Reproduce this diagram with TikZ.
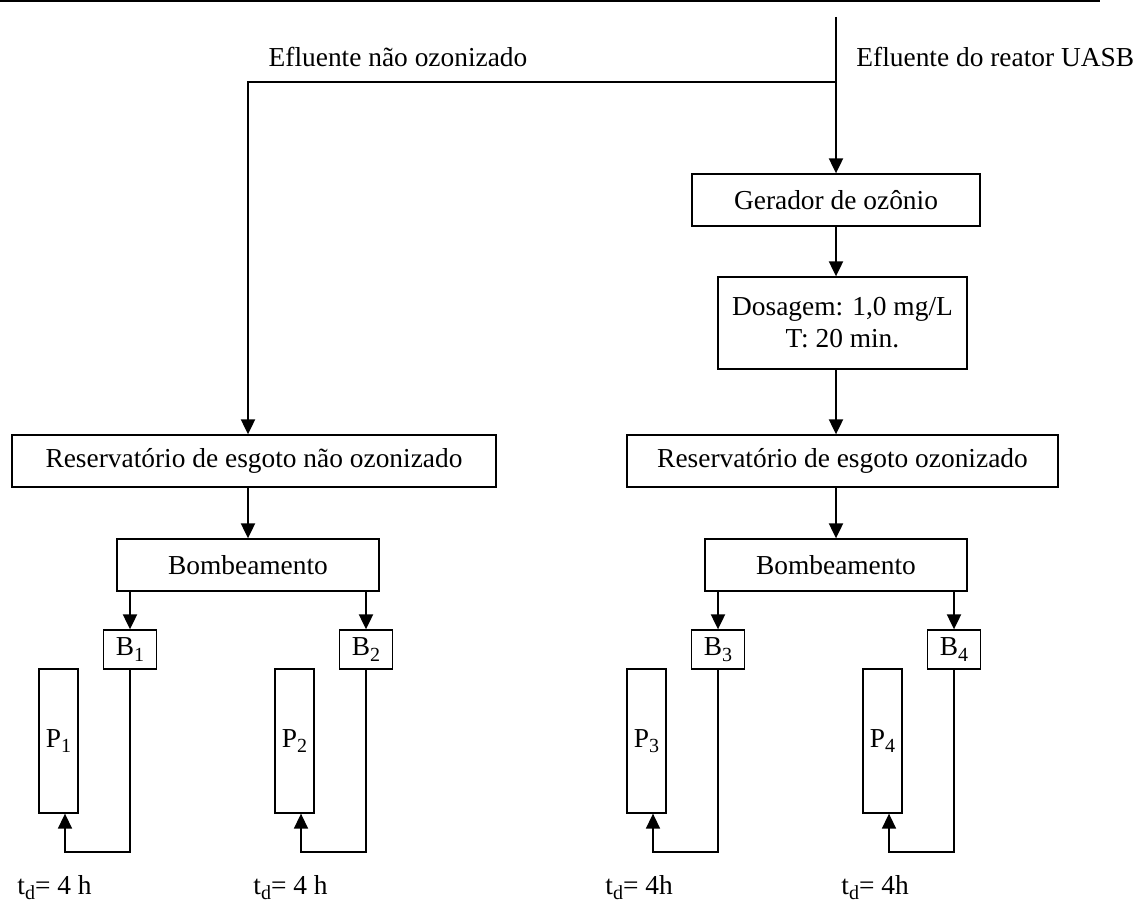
\documentclass[tikz,border=0pt]{standalone}
\usepackage{fontspec}
\setmainfont{Liberation Serif}
\usetikzlibrary{arrows.meta}

\newcommand{\indice}[1]{\raisebox{-0.45ex}{\fontsize{10}{10}\selectfont #1}}

\tikzset{
  caixa/.style={draw, line width=0.65pt, inner sep=0pt, align=center},
  seta/.style={line width=1pt, -{Triangle[length=7.5pt,width=7pt]}},
  volta/.style={line width=0.8pt, -{Triangle[length=7.5pt,width=7pt]}},
}

\begin{document}
\begin{tikzpicture}[x=0.5pt,y=-0.5pt, font=\fontsize{13.7}{16}\selectfont]
  \useasboundingbox (0,0) rectangle (1136,908);

  % linha do topo
  \draw[line width=1pt] (0,1.5) -- (1100,1.5);

  % entrada
  \coordinate (topo) at (836,17);
  \coordinate (ramo) at (836,82);
  \node[anchor=base] (naoOz) at (398,67) {Efluente não ozonizado};
  \node[anchor=base west, inner sep=0pt] (uasb) at (856,67) {Efluente do reator UASB};

  % caixas principais
  \node[caixa, minimum width=144pt, minimum height=26pt] (gerador) at (836,200) {Gerador de ozônio};
  \node[caixa, minimum width=124.5pt, minimum height=46pt] (dosagem) at (842.5,323) {Dosagem: 1,0 mg/L\\T: 20 min.};
  \node[caixa, minimum width=242pt, minimum height=26pt] (resL) at (254,461) {Reservatório de esgoto não ozonizado};
  \node[caixa, minimum width=215.5pt, minimum height=26pt] (resR) at (842.5,461) {Reservatório de esgoto ozonizado};
  \node[caixa, minimum width=131pt, minimum height=26pt] (bombL) at (248,565) {Bombeamento};
  \node[caixa, minimum width=131pt, minimum height=26pt] (bombR) at (836,565) {Bombeamento};

  \draw[line width=1pt] (topo) -- (ramo);
  \draw[seta] (ramo) -- (gerador.north);
  \draw[seta] (ramo) -| (resL.north -| bombL.north);
  \draw[seta] (gerador.south) -- (gerador.south |- dosagem.north);
  \draw[seta] (gerador.south |- dosagem.south) -- (gerador.south |- resR.north);
  \draw[seta] (resL.south -| bombL.north) -- (bombL.north);
  \draw[seta] (resR.south -| bombR.north) -- (bombR.north);

  % bombas e colunas
  \foreach \n/\bx/\bm/\td in {1/130/bombL/4 h, 2/366/bombL/4 h, 3/718/bombR/4h, 4/954/bombR/4h}{
    \node[caixa, minimum width=26.5pt, minimum height=19.5pt] (b\n) at (\bx,649.5) {B\indice{\n}};
    \node[caixa, minimum width=19.5pt, minimum height=72pt] (p\n) at (\bx-71.5,741) {P\indice{\n}};
    \node[anchor=base west, inner sep=0pt] (td\n) at (\bx-113,894) {t\indice{d}= \td};
    \draw[seta] (b\n.north |- \bm.south) -- (b\n.north);
    \draw[volta] (b\n.south) -- (\bx,852) -| ([xshift=3.25pt]p\n.south);
  }
\end{tikzpicture}
\end{document}
